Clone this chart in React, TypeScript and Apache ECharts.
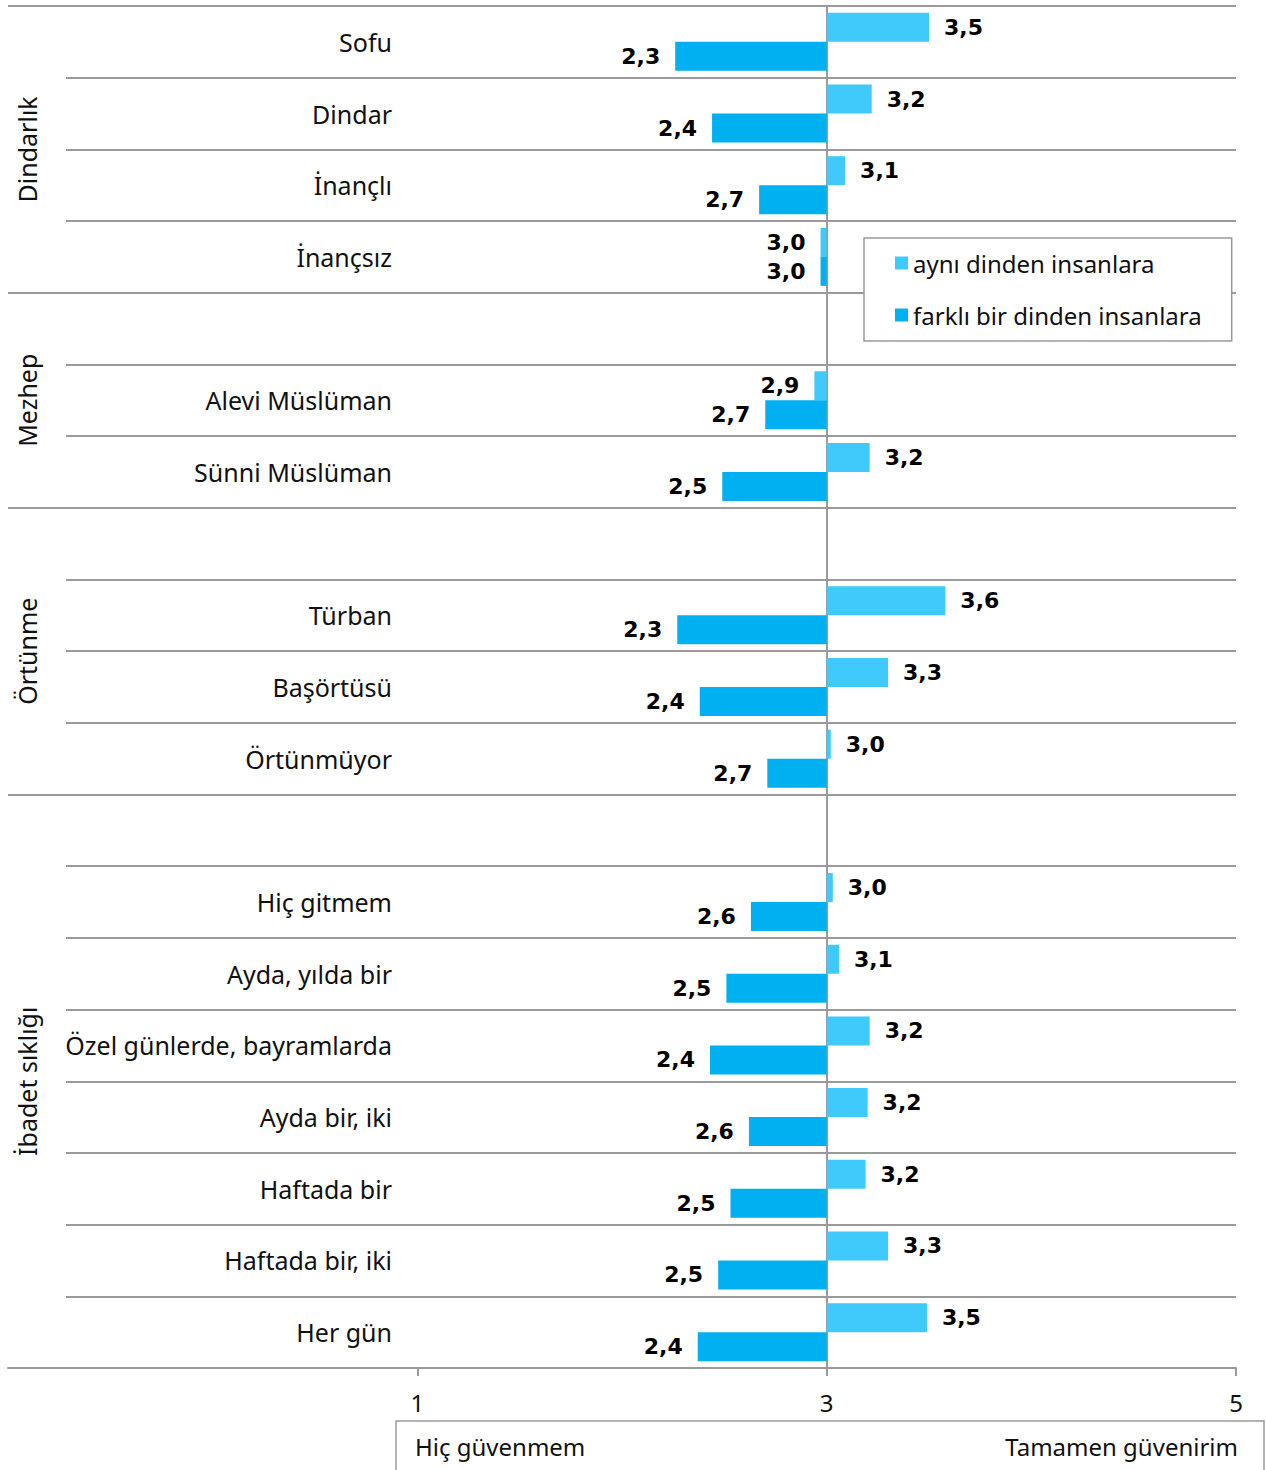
import { useEffect, useRef } from "react";
import * as echarts from "echarts";

const categories = [
  "Sofu", "Dindar", "İnançlı", "İnançsız", "",
  "Alevi Müslüman", "Sünni Müslüman", "",
  "Türban", "Başörtüsü", "Örtünmüyor", "",
  "Hiç gitmem", "Ayda, yılda bir", "Özel günlerde, bayramlarda",
  "Ayda bir, iki", "Haftada bir", "Haftada bir, iki", "Her gün",
];
const sameReligion = [
  3.50, 3.22, 3.09, 2.97, null,
  2.94, 3.21, null,
  3.58, 3.30, 3.02, null,
  3.03, 3.06, 3.21, 3.20, 3.19, 3.30, 3.49,
];
const otherReligion = [
  2.26, 2.44, 2.67, 2.97, null,
  2.70, 2.49, null,
  2.27, 2.38, 2.71, null,
  2.63, 2.51, 2.43, 2.62, 2.53, 2.47, 2.37,
];
const groupNames = ["Dindarlık", "Mezhep", "Örtünme", "İbadet sıklığı"];
const groupSizes = [4, 3, 4, 8];
const seriesNames = ["aynı dinden insanlara", "farklı bir dinden insanlara"];
const axisTickValues = [1, 3, 5];
const scaleEnds = ["Hiç güvenmem", "Tamamen güvenirim"];

const BASE = 3;
const AXIS_MIN = -1;
const AXIS_MAX = 5;

const LIGHT = "#40CAFB";
const DARK = "#00B0F0";
const LINE = "#9a9a9a";
const TEXT = "#111";
const FONT = "Noto Sans";

export default function App() {
  const ref = useRef<HTMLDivElement>(null);

  useEffect(() => {
    if (!ref.current) return;
    const chart = echarts.init(ref.current, null, { renderer: "svg" });

    const H = 1470;
    const top = 6;
    const bottom = 102;
    const rowH = (H - top - bottom) / categories.length;

    const boundaries: number[] = [];
    let acc = 0;
    const groupGraphics: any[] = [];
    groupSizes.forEach((n, gi) => {
      boundaries.push(acc);
      const center = top + (acc + n / 2) * rowH;
      groupGraphics.push({
        type: "text",
        x: 27,
        y: center,
        rotation: Math.PI / 2,
        style: {
          text: groupNames[gi],
          fontSize: 25,
          fontFamily: FONT,
          fill: TEXT,
          align: "center",
          verticalAlign: "middle",
        },
      });
      acc += n;
    });

    const fmt = (v: number) => (v + BASE).toFixed(1).replace(".", ",");
    const mk = (arr: (number | null)[]) =>
      arr.map((v) =>
        v == null
          ? "-"
          : {
              value: v - BASE,
              label: { position: v >= BASE ? "right" : "left" },
            }
      );

    const labelStyle = {
      show: true,
      formatter: (p: any) => (typeof p.value === "number" ? fmt(p.value) : ""),
      fontFamily: "DejaVu Sans",
      fontWeight: "bold",
      fontSize: 22,
      color: "#000",
      distance: 15,
    };

    const tickVals = axisTickValues.map((v) => v - BASE);

    chart.setOption({
      animation: false,
      grid: [
        { left: 8, right: 30, top, bottom },
        { left: 66, right: 30, top, bottom },
        { left: 400, right: 30, top, bottom },
      ],
      xAxis: [
        {
          gridIndex: 0,
          type: "value",
          min: AXIS_MIN - BASE,
          max: AXIS_MAX - BASE,
          interval: 2,
          axisLine: { show: true, lineStyle: { color: LINE, width: 2 } },
          axisTick: {
            show: true,
            length: 8,
            customValues: tickVals,
            lineStyle: { color: LINE, width: 2 },
          },
          axisLabel: {
            customValues: tickVals,
            formatter: (v: number) => String(v + BASE),
            fontSize: 24,
            fontFamily: FONT,
            color: TEXT,
            margin: 22,
          },
          splitLine: { show: false },
        },
        { gridIndex: 1, type: "value", show: false, min: AXIS_MIN - BASE, max: AXIS_MAX - BASE },
        { gridIndex: 2, type: "value", show: false, min: 0, max: 1 },
      ],
      yAxis: [
        {
          gridIndex: 0,
          type: "category",
          data: categories,
          inverse: true,
          axisLine: { show: true, onZero: true, lineStyle: { color: LINE, width: 2 } },
          axisTick: { show: false },
          axisLabel: { show: false },
          splitLine: {
            show: true,
            interval: (i: number) => boundaries.includes(i),
            lineStyle: { color: LINE, width: 2 },
          },
        },
        {
          gridIndex: 1,
          type: "category",
          data: categories,
          inverse: true,
          axisLine: { show: false },
          axisTick: { show: false },
          axisLabel: { show: false },
          splitLine: { show: true, interval: 0, lineStyle: { color: LINE, width: 2 } },
        },
        {
          gridIndex: 2,
          type: "category",
          data: categories,
          inverse: true,
          axisLine: { show: false },
          axisTick: { show: false },
          axisLabel: {
            show: true,
            interval: 0,
            margin: 8,
            fontSize: 25,
            fontFamily: FONT,
            color: TEXT,
          },
          splitLine: { show: false },
        },
      ],
      legend: {
        data: seriesNames,
        orient: "vertical",
        left: 864,
        top: 238,
        padding: [13, 30, 14, 31],
        itemGap: 28,
        itemWidth: 13,
        itemHeight: 13,
        icon: "rect",
        selectedMode: false,
        backgroundColor: "#fff",
        borderColor: LINE,
        borderWidth: 1.5,
        textStyle: { fontSize: 24, fontFamily: FONT, color: TEXT },
      },
      series: [
        {
          name: seriesNames[0],
          type: "bar",
          xAxisIndex: 0,
          yAxisIndex: 0,
          data: mk(sameReligion),
          barWidth: 29,
          barGap: "0%",
          itemStyle: { color: LIGHT },
          label: labelStyle,
        },
        {
          name: seriesNames[1],
          type: "bar",
          xAxisIndex: 0,
          yAxisIndex: 0,
          data: mk(otherReligion),
          barWidth: 29,
          barGap: "0%",
          itemStyle: { color: DARK },
          label: labelStyle,
        },
      ],
      graphic: [
        ...groupGraphics,
        {
          type: "rect",
          shape: { x: 396, y: 1421, width: 868, height: 60 },
          style: { fill: "none", stroke: LINE, lineWidth: 1.5 },
        },
        {
          type: "text",
          x: 415,
          y: 1446,
          style: {
            text: scaleEnds[0],
            fontSize: 24,
            fontFamily: FONT,
            fill: TEXT,
            align: "left",
            verticalAlign: "middle",
          },
        },
        {
          type: "text",
          x: 1238,
          y: 1446,
          style: {
            text: scaleEnds[1],
            fontSize: 24,
            fontFamily: FONT,
            fill: TEXT,
            align: "right",
            verticalAlign: "middle",
          },
        },
      ],
    });

    return () => chart.dispose();
  }, []);

  return (
    <div
      ref={ref}
      style={{ position: "absolute", left: 0, top: 0, width: 1266, height: 1470 }}
    />
  );
}
